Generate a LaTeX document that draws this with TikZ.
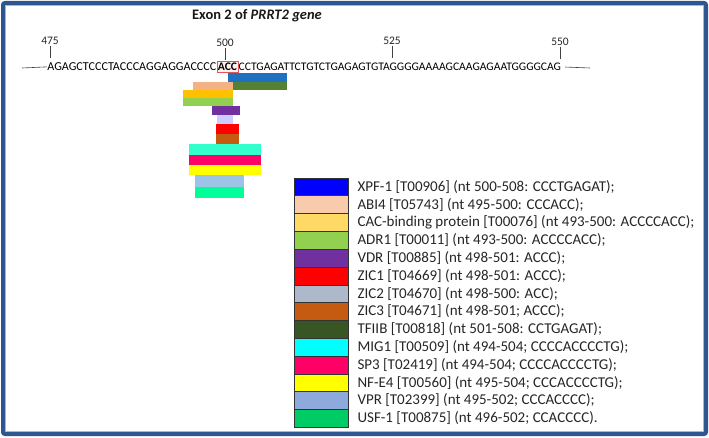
\documentclass[tikz,border=0pt]{standalone}
\usepackage{fontspec}
\setmainfont{Carlito}
\usetikzlibrary{positioning}
\definecolor{frameblue}{HTML}{2E5690}
\definecolor{framelight}{HTML}{9DB9DE}
\definecolor{accred}{HTML}{E05555}
\definecolor{accfill}{HTML}{FFF0F0}
% colori delle barre
\definecolor{cxpf}{HTML}{1F70C1}
\definecolor{ctfiib}{HTML}{548235}
\definecolor{cabi}{HTML}{F4B183}
\definecolor{ccac}{HTML}{FFC000}
\definecolor{cadr}{HTML}{92D050}
\definecolor{cvdr}{HTML}{7030A0}
\definecolor{czictwo}{HTML}{CCCCFF}
\definecolor{czicone}{HTML}{FF0000}
\definecolor{czicthree}{HTML}{C55A11}
\definecolor{cmig}{HTML}{33FFCC}
\definecolor{csp}{HTML}{FF0066}
\definecolor{cnfe}{HTML}{FFFF00}
\definecolor{cvpr}{HTML}{9DC3E6}
\definecolor{cusf}{HTML}{00FF99}
% colori della legenda
\definecolor{lxpf}{HTML}{0000FF}
\definecolor{labi}{HTML}{F8CBAD}
\definecolor{lcac}{HTML}{FFD966}
\definecolor{ladr}{HTML}{92D050}
\definecolor{lvdr}{HTML}{7030A0}
\definecolor{lzicone}{HTML}{FF0000}
\definecolor{lzictwo}{HTML}{ADB9CA}
\definecolor{lzicthree}{HTML}{C55A11}
\definecolor{ltfiib}{HTML}{375623}
\definecolor{lmig}{HTML}{00FFFF}
\definecolor{lsp}{HTML}{FF0066}
\definecolor{lnfe}{HTML}{FFFF00}
\definecolor{lvpr}{HTML}{8EA9DB}
\definecolor{lusf}{HTML}{00CC66}
\tikzset{
  % cornice
  frame/.style={line width=4pt, frameblue, rounded corners=2pt},
  % titolo
  title/.style={font=\fontsize{14.5}{16}\selectfont\bfseries, text=black!90},
  % sequenza
  seq/.style={font=\fontsize{11.6}{13}\selectfont, text=black, inner sep=0pt},
  tick/.style={font=\fontsize{11.5}{12}\selectfont, text=black!85, inner sep=1pt},
  tickline/.style={line width=0.6pt, black!75},
  % barra di un sito di legame
  bar/.style={rectangle, inner sep=0pt, outer sep=0pt, draw=none},
  % legenda
  swatch/.style={rectangle, draw=black!80, line width=0.6pt, minimum width=54pt,
    minimum height=17.8pt, inner sep=0pt},
  legtxt/.style={font=\fontsize{15}{17}\selectfont, text=black!85, inner sep=0pt,
    anchor=west},
}
\newcommand{\tfbar}[6]{%
  \node[bar, fill=#6, anchor=north west, minimum width={(#4-#2)*1pt},
    minimum height={(#5-#3)*1pt}] (#1) at (#2,#3) {};
}

\begin{document}
\begin{tikzpicture}[x=1pt, y=-1pt]
  \useasboundingbox (0,0) rectangle (709,438);
  \draw[frame] (3,3) rectangle (706,434);
  \draw[framelight, line width=0.8pt] (5.6,5.6) rectangle (703.4,431.4);
  \node[title] (title) at (257,16) {Exon 2 of \textit{PRRT2 gene}};
  % sequenza con la tripletta ACC
  \node[seq, draw=accred, line width=0.8pt, fill=accfill,
    font=\fontsize{11.6}{13}\selectfont\bfseries,
    inner xsep=1pt, inner ysep=2pt] (acc) at (227.5,67) {ACC};
  \node[seq, anchor=base east, font=\fontsize{12.1}{13}\selectfont] (pre) at (acc.base west)
    {AGAGCTCCCTACCCAGGAGGACCCC};
  \node[seq, anchor=base west] (post) at (acc.base east)
    {CCTGAGATTCTGTCTGAGAGTGTAGGGGAAAAGCAAGAGAATGGGGCAG};
  \coordinate (seqL) at (22,68);
  \coordinate (seqR) at (590,68);
  \draw[tickline] (seqL) -- (pre.west);
  \draw[tickline] ([xshift=4pt]post.east) -- (seqR);
  % posizioni
  \node[tick] (t475) at (50,41) {475};
  \node[tick] (t500) at (225,43) {500};
  \node[tick] (t525) at (392,41) {525};
  \node[tick] (t550) at (560,42) {550};
  \foreach \t in {t475,t500,t525,t550}
    \draw[tickline] (\t.south) -- ++(0,12.5);
  % siti di legame
  \tfbar{bxpf}{228}{73}{287}{82}{cxpf}
  \tfbar{btfiib}{233}{82}{287}{90}{ctfiib}
  \tfbar{babi}{193}{82}{233}{90}{cabi}
  \tfbar{bcac}{183}{90}{233}{98}{ccac}
  \tfbar{badr}{183}{98}{233}{106}{cadr}
  \tfbar{bvdr}{212}{106}{240}{115}{cvdr}
  \tfbar{bzictwo}{217}{115}{233}{124}{czictwo}
  \tfbar{bzicone}{216}{124}{239}{134}{czicone}
  \tfbar{bzicthree}{216}{134}{239}{144}{czicthree}
  \tfbar{bmig}{189}{144}{261}{155}{cmig}
  \tfbar{bsp}{189}{155}{261}{165}{csp}
  \tfbar{bnfe}{189}{165}{261}{175}{cnfe}
  \tfbar{bvpr}{195}{175}{244}{187}{cvpr}
  \tfbar{busf}{195}{187}{244}{198}{cusf}
  % legenda
  \foreach \col/\txt [count=\i from 0] in {
      lxpf/{XPF-1 [T00906] (nt 500-508: CCCTGAGAT);},
      labi/{ABI4 [T05743] (nt 495-500: CCCACC);},
      lcac/{CAC-binding protein [T00076] (nt 493-500: ACCCCACC);},
      ladr/{ADR1 [T00011] (nt 493-500: ACCCCACC);},
      lvdr/{VDR [T00885] (nt 498-501: ACCC);},
      lzicone/{ZIC1 [T04669] (nt 498-501: ACCC);},
      lzictwo/{ZIC2 [T04670] (nt 498-500: ACC);},
      lzicthree/{ZIC3 [T04671] (nt 498-501; ACCC);},
      ltfiib/{TFIIB [T00818] (nt 501-508: CCTGAGAT);},
      lmig/{MIG1 [T00509] (nt 494-504; CCCCACCCCTG);},
      lsp/{SP3 [T02419] (nt 494-504; CCCCACCCCTG);},
      lnfe/{NF-E4 [T00560] (nt 495-504; CCCACCCCTG);},
      lvpr/{VPR [T02399] (nt 495-502; CCCACCCC);},
      lusf/{USF-1 [T00875] (nt 496-502; CCACCCC).}} {
    \node[swatch, fill=\col] (sw\i) at (321,{186.9+17.8*\i}) {};
    \node[legtxt, right=9pt of sw\i] (lg\i) {\txt};
  }
\end{tikzpicture}
\end{document}
